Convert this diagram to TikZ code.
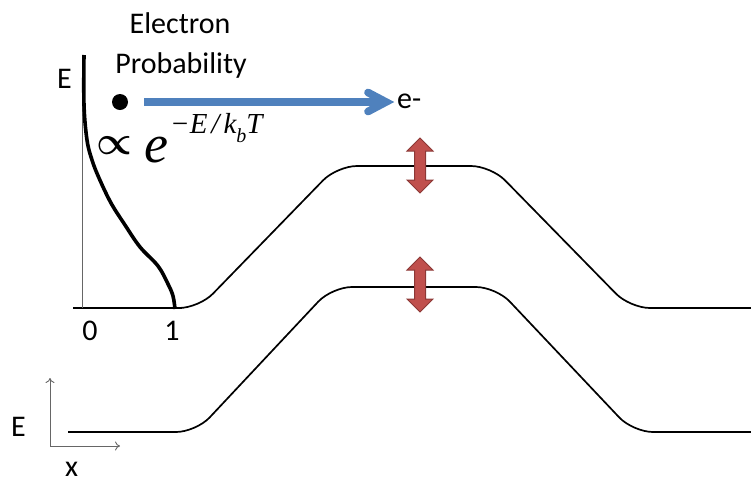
\documentclass[tikz,border=0pt]{standalone}
\usepackage{fontspec}
\usetikzlibrary{arrows.meta}
\setmainfont{Carlito}
\newfontfamily\tnr{Liberation Serif}
\definecolor{arrowblue}{RGB}{79,129,189}
\definecolor{redfill}{RGB}{192,80,77}
\definecolor{redline}{RGB}{140,56,54}
\begin{document}
\begin{tikzpicture}[x=1pt,y=-1pt,
  lbl/.style={inner sep=0pt,font=\fontsize{30}{36}\selectfont},
  thinband/.style={line width=1.7pt,rounded corners=20pt},
  thickband/.style={line width=2.8pt},
  axisgray/.style={draw=black!60,line width=0.9pt},
  dblarrow/.style={fill=redfill,draw=redline,line width=1pt,line join=miter}]
\useasboundingbox (0,0) rectangle (751,483);

% upper band
\draw[thinband] (180,308) -- (199,308) -- (337,166) -- (491,166) -- (630,308) -- (655,308);
\draw[thickband] (73,308) -- (182,308);
\draw[thickband] (358,166) -- (470,166);
\draw[thickband] (652,308) -- (751,308);

% lower band
\draw[thinband] (170,432) -- (196,432) -- (332,287) -- (496,287) -- (633,432) -- (660,432);
\draw[thickband] (68,432) -- (173,432);
\draw[thickband] (362,287) -- (467,287);
\draw[thickband] (655,432) -- (751,432);

% probability axis
\draw[axisgray] (82,60) -- (82,308);
\draw[line width=3.6pt,line cap=butt] plot[smooth,tension=0.6] coordinates
 {(84,55) (84,105) (87,140) (92,160) (99,178) (111,203) (125,225) (140,247) (158,266) (168,284) (173,296) (175,309)};

% labels
\node[lbl,anchor=base] (el) at (180,33) {Electron};
\node[lbl,anchor=base] (pr) at (181,73) {Probability};
\node[lbl,anchor=base west] (eax) at (57,88) {E};
\node[lbl,anchor=base] (zero) at (90,340) {0};
\node[lbl,anchor=base] (one) at (172,340) {1};
\node[lbl,anchor=base west] (em) at (397,108) {e-};
\node[lbl,anchor=base west] (elow) at (11,436) {E};
\node[lbl,anchor=base west] (xlow) at (65,476) {x};

% dot and blue arrow
\fill (120,102) circle (8);
\coordinate (bstart) at (144,102);
\coordinate (btip) at (386,102);
\draw[arrowblue,line width=7.7pt] (bstart) -- (btip);
\draw[arrowblue,line width=7.7pt,line cap=round,line join=miter] (368,92.5) -- (btip) -- (368,111.5);

% formula
\node[inner sep=0pt] (prop) at (114,146) {\scalebox{4.0}{\boldmath$\propto$}};
\node[inner sep=0pt,anchor=base west,font=\fontsize{54}{54}\selectfont\tnr\itshape] (ee) at (144,162) {e};
\node[inner sep=0pt,anchor=base west,font=\fontsize{29}{29}\selectfont\tnr\itshape] (sup) at (170,133)
 {−E\hspace{4pt}/\hspace{4pt}k\raisebox{-9pt}{\fontsize{20}{20}\selectfont b}T};

% lower axes
\coordinate (o) at (50,446);
\draw[axisgray,-{To[length=5pt,width=9pt]}] (o) -- (50,378);
\draw[axisgray,-{To[length=5pt,width=9pt]}] (o) -- (120,446);

% red double arrows
\draw[dblarrow] (420,138) -- (433,151) -- (425.5,151) -- (425.5,180) -- (433,180) -- (420,193)
  -- (407,180) -- (414.5,180) -- (414.5,151) -- (407,151) -- cycle;
\draw[dblarrow] (420,257) -- (433,270) -- (425.5,270) -- (425.5,299) -- (433,299) -- (420,312)
  -- (407,299) -- (414.5,299) -- (414.5,270) -- (407,270) -- cycle;
\end{tikzpicture}
\end{document}
